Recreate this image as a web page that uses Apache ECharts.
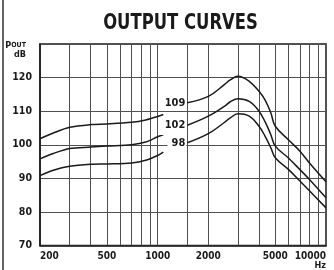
<!DOCTYPE html>
<html lang="en">
<head>
    <meta charset="UTF-8">
    <title>Output Curves</title>
    <script src="https://cdn.jsdelivr.net/npm/echarts@6/dist/echarts.min.js"></script>
    <style>
        html, body {
            margin: 0;
            padding: 0;
            background: #ffffff;
        }
        #chart {
            width: 334px;
            height: 270px;
        }
    </style>
</head>
<body>
<div id="chart"></div>
<script>
    var FONT = "'Liberation Sans Narrow', 'DejaVu Sans Condensed', 'Roboto', sans-serif";

    // frequency points (Hz) where the curves were read
    var freqLeft = [200, 240, 300, 400, 500, 700, 850, 1000, 1080];
    var freqRight = [1500, 2000, 2500, 2700, 3000, 3500, 4000, 4350, 4700, 5000, 6000, 7000, 8000, 10000];

    // output level (dB) of each curve, left part and right part
    var out109Left = [101.8, 103.5, 105.2, 106.0, 106.2, 106.7, 107.4, 108.4, 109.0];
    var out102Left = [95.8, 97.4, 98.9, 99.3, 99.6, 100.0, 100.8, 102.4, 103.0];
    var out98Left = [90.8, 92.4, 93.6, 94.2, 94.3, 94.6, 95.4, 96.8, 97.8];

    var out109Right = [112.5, 114.4, 118.0, 119.3, 120.4, 118.9, 115.9, 113.3, 109.5, 105.5, 101.4, 98.1, 94.5, 89.0];
    var out102Right = [105.8, 108.5, 111.5, 112.8, 113.7, 112.9, 110.0, 106.8, 103.0, 99.6, 96.0, 92.6, 89.6, 84.2];
    var out98Right = [100.6, 103.3, 106.7, 108.0, 109.2, 108.5, 105.5, 102.5, 99.1, 96.1, 92.6, 89.2, 86.2, 81.2];

    var curveNames = ['109', '102', '98'];

    // axis ticks
    var xGridVals = [300, 400, 500, 600, 700, 800, 900, 1000, 1500, 2000, 3000, 4000, 5000, 6000, 7000, 8000, 9000];
    var xLabelVals = [200, 500, 1000, 2000, 5000, 10000];

    function pairs(xs, ys) {
        var arr = [];
        for (var i = 0; i < xs.length; i++) {
            arr.push([xs[i], ys[i]]);
        }
        return arr;
    }

    function leftSeries(ys) {
        return {
            type: 'line',
            data: pairs(freqLeft, ys),
            smooth: 0.3,
            symbol: 'none',
            silent: true,
            lineStyle: {color: '#1a1a1a', width: 1.5},
            z: 5
        };
    }

    function rightSeries(ys, name) {
        var d = pairs(freqRight, ys);
        d[0] = {
            value: d[0],
            label: {
                show: true,
                position: 'left',
                distance: 1,
                formatter: name,
                fontFamily: FONT,
                fontWeight: 'bold',
                fontSize: 11,
                color: '#1a1a1a',
                backgroundColor: '#ffffff',
                padding: [2, 1, 2, 4]
            }
        };
        return {
            type: 'line',
            name: name,
            data: d,
            smooth: 0.4,
            symbol: 'circle',
            symbolSize: 0,
            showSymbol: true,
            silent: true,
            label: {show: false},
            lineStyle: {color: '#1a1a1a', width: 1.5},
            z: 6
        };
    }

    var chart = echarts.init(document.getElementById('chart'), null, {renderer: 'canvas'});

    var option = {
        backgroundColor: '#ffffff',
        animation: false,
        grid: {
            left: 40,
            right: 8,
            top: 44,
            bottom: 24,
            show: true,
            borderColor: '#1a1a1a',
            borderWidth: 1.5
        },
        xAxis: {
            type: 'log',
            logBase: 10,
            min: 200,
            max: 10000,
            axisLine: {show: true, lineStyle: {color: '#1a1a1a', width: 1.5}},
            axisTick: {show: false, customValues: xGridVals},
            splitLine: {show: true, lineStyle: {color: '#505050', width: 1}},
            axisLabel: {
                customValues: xLabelVals,
                margin: 6,
                fontFamily: FONT,
                fontWeight: 'bold',
                fontSize: 10,
                color: '#1a1a1a',
                alignMinLabel: 'left',
                alignMaxLabel: 'right',
                formatter: function (v) {
                    if (v === 10000) return '10000\n{hz|Hz}';
                    return String(v);
                },
                rich: {
                    hz: {
                        fontFamily: FONT,
                        fontWeight: 'bold',
                        fontSize: 9,
                        lineHeight: 8,
                        color: '#1a1a1a',
                        align: 'right'
                    }
                }
            }
        },
        yAxis: {
            type: 'value',
            min: 70,
            max: 130,
            interval: 10,
            axisLine: {show: true, lineStyle: {color: '#1a1a1a', width: 1.5}},
            axisTick: {show: false},
            splitLine: {show: true, lineStyle: {color: '#505050', width: 1}},
            axisLabel: {
                margin: 8,
                fontFamily: FONT,
                fontWeight: 'bold',
                fontSize: 10.5,
                color: '#1a1a1a',
                formatter: function (v) {
                    return v === 130 ? '' : String(v);
                }
            }
        },
        graphic: [
            {
                type: 'text',
                x: 180.5,
                y: 13,
                scaleX: 0.87,
                style: {
                    text: 'OUTPUT CURVES',
                    align: 'center',
                    verticalAlign: 'top',
                    font: 'bold 21px ' + FONT,
                    fill: '#1a1a1a'
                }
            },
            {
                type: 'line',
                shape: {x1: 3, y1: 0, x2: 3, y2: 270},
                style: {stroke: '#333333', lineWidth: 1.5}
            },
            {
                type: 'text',
                x: 26,
                y: 41,
                style: {
                    text: '{p|P}{o|OUT}',
                    align: 'right',
                    rich: {
                        p: {fontFamily: FONT, fontWeight: 'bold', fontSize: 9, fill: '#1a1a1a'},
                        o: {fontFamily: FONT, fontWeight: 'bold', fontSize: 7, fill: '#1a1a1a'}
                    }
                }
            },
            {
                type: 'text',
                x: 26,
                y: 50,
                style: {
                    text: 'dB',
                    align: 'right',
                    font: 'bold 9px ' + FONT,
                    fill: '#1a1a1a'
                }
            }
        ],
        series: [
            leftSeries(out109Left),
            leftSeries(out102Left),
            leftSeries(out98Left),
            rightSeries(out109Right, curveNames[0]),
            rightSeries(out102Right, curveNames[1]),
            rightSeries(out98Right, curveNames[2])
        ]
    };

    chart.setOption(option);
</script>
</body>
</html>
